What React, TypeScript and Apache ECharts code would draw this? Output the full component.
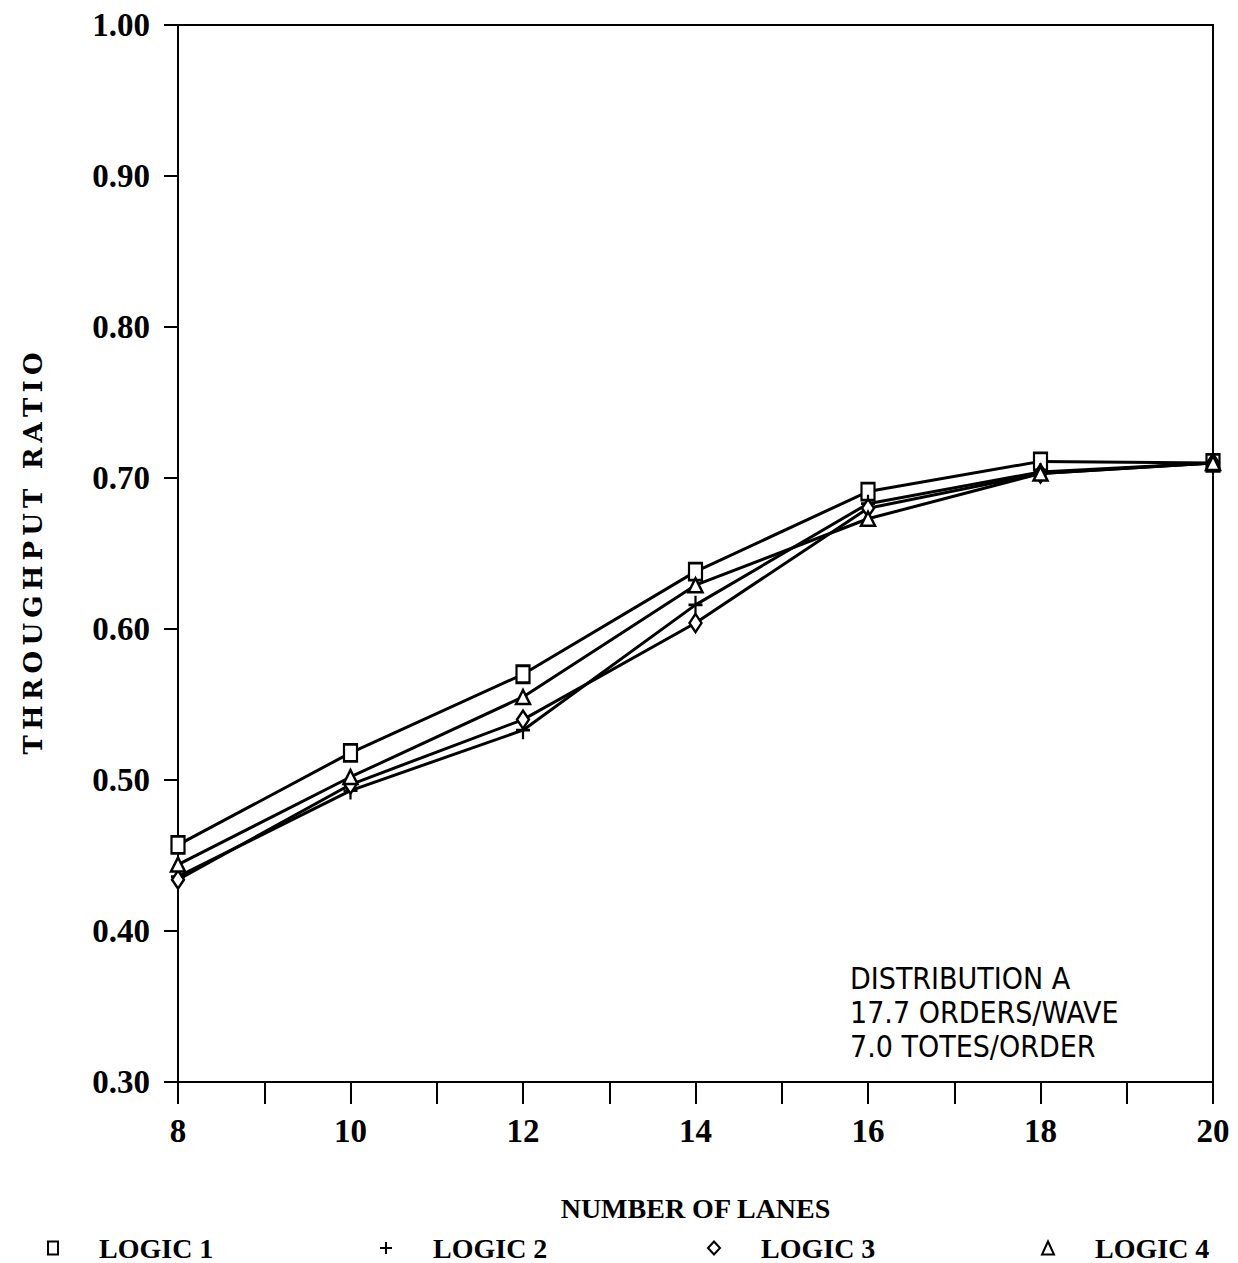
import React, { useEffect, useRef } from 'react';
import * as echarts from 'echarts';

const lanes = [8, 10, 12, 14, 16, 18, 20];
const logic1 = [0.457, 0.518, 0.570, 0.638, 0.691, 0.711, 0.710];
const logic2 = [0.436, 0.493, 0.533, 0.616, 0.683, 0.704, 0.710];
const logic3 = [0.434, 0.497, 0.540, 0.604, 0.680, 0.703, 0.710];
const logic4 = [0.444, 0.502, 0.555, 0.629, 0.673, 0.703, 0.710];
const seriesNames = ['LOGIC 1', 'LOGIC 2', 'LOGIC 3', 'LOGIC 4'];
const annotationLines = ['DISTRIBUTION A', '17.7 ORDERS/WAVE', '7.0 TOTES/ORDER'];
const xTitle = 'NUMBER OF LANES';
const yTitle = 'THROUGHPUT RATIO';

const PLUS = 'path://M5,0L5,10M0,5L10,5';
const SERIF = "'Liberation Serif', 'Times New Roman', serif";

export default function App() {
  const ref = useRef<HTMLDivElement>(null);
  useEffect(() => {
    document.body.style.margin = '0';
    const chart = echarts.init(ref.current!, undefined, { renderer: 'svg' });
    const data = [logic1, logic2, logic3, logic4];
    const symbols = ['rect', PLUS, 'diamond', 'triangle'];
    const sizes: any[] = [[13, 17], [14, 18], [12, 18], [14, 14]];
    const legendIcons = ['rect', PLUS, 'diamond', 'triangle'];
    const legendLefts = [42, 374, 702, 1036];
    chart.setOption({
      animation: false,
      backgroundColor: '#fff',
      grid: {
        left: 178, right: 25, top: 25, bottom: 181,
        show: true, borderColor: '#000', borderWidth: 2, backgroundColor: 'transparent',
      },
      xAxis: {
        type: 'value', min: 8, max: 20, interval: 1,
        name: xTitle, nameLocation: 'middle', nameGap: 112,
        nameTextStyle: { fontFamily: SERIF, fontWeight: 'bold', fontSize: 28, color: '#000' },
        axisLine: { show: true, lineStyle: { color: '#000', width: 2 } },
        axisTick: { show: true, length: 22, lineStyle: { color: '#000', width: 2 } },
        axisLabel: {
          margin: 32, color: '#000', fontFamily: SERIF, fontWeight: 'bold', fontSize: 33,
          formatter: (v: number) => (v % 2 === 0 ? String(v) : ''),
        },
        splitLine: { show: false },
      },
      yAxis: {
        type: 'value', min: 0.3, max: 1.0, interval: 0.1,
        name: yTitle.split('').join('\u2009'), nameLocation: 'middle', nameGap: 132, nameRotate: 90,
        nameTextStyle: { fontFamily: "'DejaVu Serif', serif", fontWeight: 'bold', fontSize: 26, color: '#000' },
        axisLine: { show: true, lineStyle: { color: '#000', width: 2 } },
        axisTick: { show: true, length: 14, lineStyle: { color: '#000', width: 2 } },
        axisLabel: {
          margin: 28, color: '#000', fontFamily: SERIF, fontWeight: 'bold', fontSize: 33,
          formatter: (v: number) => v.toFixed(2),
        },
        splitLine: { show: false },
      },
      legend: seriesNames.map((n, i) => ({
        data: [{ name: n, icon: legendIcons[i] }],
        left: legendLefts[i], top: 1229,
        selectedMode: false,
        itemWidth: i === 0 ? 10 : 12, itemHeight: 13,
        itemStyle: { color: '#fff', borderColor: '#000', borderWidth: 2 },
        formatter: '{g| }{name}',
        textStyle: {
          fontFamily: SERIF, fontWeight: 'bold', fontSize: 28, color: '#000',
          rich: { g: { width: 36 } },
        },
      })),
      graphic: [
        {
          type: 'text', left: 850, top: 961,
          style: {
            text: annotationLines.join('\n'),
            fontFamily: "'Liberation Sans Narrow', 'DejaVu Sans Condensed', sans-serif",
            fontSize: 30, lineHeight: 34, fill: '#000',
          },
        },
      ],
      series: data.map((d, i) => ({
        name: seriesNames[i],
        type: 'line',
        data: lanes.map((x, j) => [x, d[j]]),
        symbol: symbols[i],
        symbolSize: sizes[i],
        showAllSymbol: true,
        lineStyle: { color: '#000', width: 3 },
        itemStyle: { color: '#fff', borderColor: '#000', borderWidth: 2.5 },
        z: 2 + i,
      })),
    });
    return () => chart.dispose();
  }, []);
  return <div ref={ref} style={{ width: 1238, height: 1263 }} />;
}
